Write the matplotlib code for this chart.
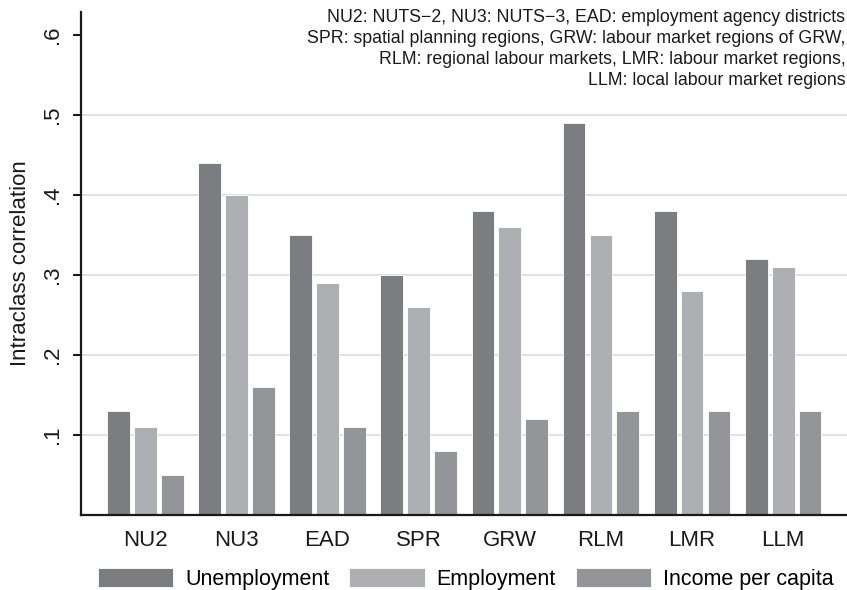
import matplotlib
matplotlib.use("Agg")
import matplotlib.pyplot as plt
import numpy as np

plt.rcParams['font.family'] = ['Liberation Sans', 'DejaVu Sans']

regions = ["NU2", "NU3", "EAD", "SPR", "GRW", "RLM", "LMR", "LLM"]
unemployment = [0.13, 0.44, 0.35, 0.30, 0.38, 0.49, 0.38, 0.32]
employment = [0.11, 0.40, 0.29, 0.26, 0.36, 0.35, 0.28, 0.31]
income = [0.05, 0.16, 0.11, 0.08, 0.12, 0.13, 0.13, 0.13]
series_names = ["Unemployment", "Employment", "Income per capita"]
colors = ["#7c7d81", "#aeafb3", "#949599"]
yticks = [0.1, 0.2, 0.3, 0.4, 0.5, 0.6]
ytick_labels = [".1", ".2", ".3", ".4", ".5", ".6"]

note = ("NU2: NUTS\u22122, NU3: NUTS\u22123, EAD: employment agency districts\n"
        "SPR: spatial planning regions, GRW: labour market regions of GRW,\n"
        "RLM: regional labour markets, LMR: labour market regions,\n"
        "LLM: local labour market regions")

fig = plt.figure(figsize=(8.47, 5.90), dpi=100)
ax = fig.add_axes([81/847, 1 - 515/590, 1 - 81/847, (515 - 12)/590])

x = np.arange(len(regions))
step = 0.295
width = 0.25
for k, (vals, name, c) in enumerate(zip([unemployment, employment, income], series_names, colors)):
    ax.bar(x + (k - 1) * step, vals, width, color=c, edgecolor="white", linewidth=0.6,
           label=name, zorder=2)

for t in yticks[:-1]:
    ax.axhline(t, color="#e1e1e1", lw=1.5, zorder=0)

ax.set_xlim(-0.705, 7.7)
ax.set_ylim(0, 0.629)
ax.set_xticks(x)
ax.set_xticklabels(regions, fontsize=16)
ax.set_yticks(yticks)
ax.set_yticklabels(ytick_labels, fontsize=16, rotation=90, va="center")
ax.tick_params(axis="x", length=0, pad=11, colors="#1a1a1a")
ax.tick_params(axis="y", direction="out", length=6, width=1.5, pad=7, colors="#1a1a1a")
ax.set_ylabel("Intraclass correlation", fontsize=16, labelpad=8, color="#1a1a1a")

for s in ["top", "right"]:
    ax.spines[s].set_visible(False)
for s in ["left", "bottom"]:
    ax.spines[s].set_linewidth(1.6)
    ax.spines[s].set_color("#1a1a1a")

fig.text(0.998, 0.985, note, ha="right", va="top", multialignment="right",
         fontsize=12.8, color="#1a1a1a", linespacing=1.32)

fig.legend(loc="lower left", bbox_to_anchor=(98/847, 0.0), ncol=3, frameon=False,
           fontsize=15.5, handlelength=3.49, handleheight=0.98, handletextpad=0.56,
           columnspacing=0.93, borderpad=0.0, borderaxespad=0.0)

fig.savefig("out.png", dpi=100)
